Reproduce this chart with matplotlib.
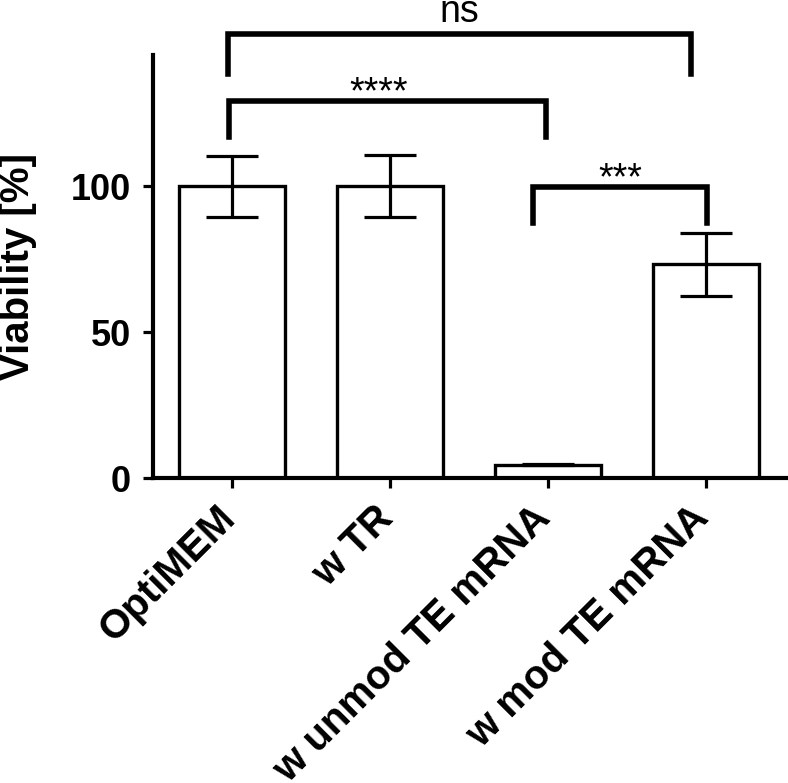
import numpy as np
import matplotlib.pyplot as plt
import matplotlib.transforms as mtransforms

# Datos
grupos = ["OptiMEM", "w TR", "w unmod TE mRNA", "w mod TE mRNA"]
viabilidad = [100.0, 100.2, 4.6, 73.2]
error = [10.5, 10.6, 0.3, 10.8]

# Comparaciones: (grupo i, grupo j, etiqueta)
comparaciones = [(0, 3, "ns"), (0, 2, "****"), (2, 3, "***")]

plt.rcParams['font.family'] = ['Liberation Sans', 'DejaVu Sans']

fig = plt.figure(figsize=(7.88, 7.83), dpi=100)
ax = fig.add_axes([0.1938, 0.3895, 0.806, 0.5403])

x = np.arange(len(grupos))
ax.bar(x, viabilidad, width=0.67, color='white', edgecolor='black', linewidth=2.4, zorder=2)
ax.errorbar(x, viabilidad, yerr=error, fmt='none', ecolor='black', elinewidth=2.3,
            capsize=19, capthick=2.3, zorder=3)

ax.set_xlim(-0.5, 3.52)
ax.set_ylim(0, 145)
ax.set_yticks([0, 50, 100])
ax.set_xticks(x)
ax.set_xticklabels(grupos, rotation=45, ha='right', va='baseline', rotation_mode='anchor',
                   fontsize=29, fontweight='bold')
for lbl in ax.get_yticklabels():
    lbl.set_fontsize(26)
    lbl.set_fontweight('bold')
ax.set_ylabel("Viability [%]", fontsize=29, fontweight='bold')
ax.yaxis.set_label_coords(-0.182, 0.5)

for s in ['top', 'right']:
    ax.spines[s].set_visible(False)
for s in ['left', 'bottom']:
    ax.spines[s].set_linewidth(3)
ax.tick_params(axis='both', width=2.3, length=7.5)
ax.tick_params(axis='y', pad=8)
ax.tick_params(axis='x', pad=22.5)
# pequeño desplazamiento a la derecha de las etiquetas del eje x
desplazar = mtransforms.ScaledTranslation(5 / 100, 0, fig.dpi_scale_trans)
for lbl in ax.get_xticklabels():
    lbl.set_transform(lbl.get_transform() + desplazar)

# Corchetes de significancia (posiciones en unidades de datos)
# x0, x1, altura, extremo inferior, desplazamiento del texto en x e y
corchetes = [(-0.025, 2.91, 152.2, 138.6, 0.0, 4.1),
             (-0.02, 1.99, 129.2, 117.0, -0.057, -0.7),
             (1.91, 3.006, 99.6, 87.4, 0.0, -0.7)]
for (i, j, etiqueta), (x0, x1, y, yb, dx, dy) in zip(comparaciones, corchetes):
    ax.plot([x0, x0, x1, x1], [yb, y, y, yb], color='black', linewidth=4,
            solid_joinstyle='miter', clip_on=False, zorder=4)
    ax.text((x0 + x1) / 2 + dx, y + dy, etiqueta, ha='center', va='baseline',
            fontsize=27, clip_on=False)

fig.savefig("out.png", dpi=100)
plt.close(fig)
